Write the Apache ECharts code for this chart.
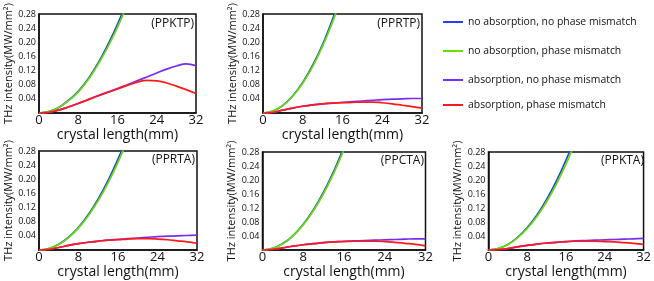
<!DOCTYPE html>
<html><head><meta charset="utf-8">
<script src="https://cdn.jsdelivr.net/npm/echarts@6/dist/echarts.min.js"></script>
<style>html,body{margin:0;padding:0;background:#fff}#c{width:654px;height:281px}</style>
</head><body><div id="c"></div>
<script>
// ---- data ----
const xLen = [0,2,4,6,8,10,12,14,16,18,20,22,24,26,28,30,32];
const crystals = ['(PPKTP)','(PPRTP)','(PPRTA)','(PPCTA)','(PPKTA)'];
const seriesNames = ['no absorption, no phase mismatch','no absorption, phase mismatch','absorption, no phase mismatch','absorption, phase mismatch'];
const xTicks = [0,8,16,24,32];
const yTicks = [0.04,0.08,0.12,0.16,0.20,0.24,0.28];

// PPKTP
const ppktpBlue   = [0,0.0039,0.0157,0.0353,0.0610,0.0960,0.1400,0.1921,0.2510,0.3176,0.392];
const ppktpGreen  = [0,0.0038,0.0151,0.0341,0.0590,0.0930,0.1363,0.1855,0.2423,0.3067,0.380];
const ppktpPurple = [0,0.002,0.008,0.017,0.027,0.038,0.049,0.059,0.069,0.080,0.091,0.102,0.113,0.124,0.133,0.139,0.134];
const ppktpRed    = [0,0.002,0.008,0.017,0.027,0.037,0.048,0.058,0.068,0.078,0.087,0.092,0.091,0.085,0.076,0.066,0.055];
// PPRTP
const pprtpBlue   = [0,0.0054,0.0216,0.0486,0.0864,0.135,0.194,0.265,0.346];
const pprtpGreen  = [0,0.0053,0.021,0.0473,0.084,0.131,0.189,0.257,0.336];
const pprtpPurple = [0,0.002,0.008,0.014,0.019,0.023,0.026,0.028,0.030,0.032,0.034,0.036,0.038,0.039,0.040,0.041,0.041];
const pprtpRed    = [0,0.002,0.008,0.014,0.019,0.023,0.026,0.028,0.029,0.030,0.031,0.031,0.029,0.026,0.022,0.018,0.014];
// PPRTA
const pprtaBlue   = [0,0.0040,0.0161,0.0361,0.0643,0.1004,0.1446,0.1968,0.257,0.325];
const pprtaGreen  = [0,0.0039,0.0155,0.0349,0.0620,0.0969,0.1395,0.1899,0.248,0.314];
const pprtaPurple = [0,0.002,0.007,0.013,0.018,0.022,0.025,0.028,0.030,0.032,0.034,0.036,0.038,0.039,0.040,0.041,0.042];
const pprtaRed    = [0,0.002,0.007,0.013,0.018,0.022,0.025,0.028,0.029,0.031,0.032,0.032,0.031,0.029,0.026,0.023,0.019];
// PPCTA
const ppctaBlue   = [0,0.0046,0.0184,0.0414,0.0736,0.115,0.1657,0.2255,0.2945];
const ppctaGreen  = [0,0.0045,0.0179,0.0404,0.0718,0.1122,0.1615,0.2199,0.2871];
const ppctaPurple = [0,0.002,0.006,0.011,0.015,0.018,0.021,0.023,0.025,0.026,0.027,0.028,0.029,0.030,0.031,0.032,0.032];
const ppctaRed    = [0,0.002,0.006,0.011,0.015,0.018,0.021,0.023,0.024,0.025,0.025,0.025,0.024,0.022,0.019,0.016,0.012];
// PPKTA
const ppktaBlue   = [0,0.0040,0.0161,0.0361,0.0643,0.1004,0.1446,0.1968,0.257,0.325];
const ppktaGreen  = [0,0.0038,0.0153,0.0345,0.0613,0.0958,0.1379,0.1877,0.2451,0.3102];
const ppktaPurple = [0,0.001,0.004,0.009,0.013,0.017,0.020,0.022,0.024,0.026,0.027,0.028,0.029,0.030,0.031,0.032,0.033];
const ppktaRed    = [0,0.001,0.004,0.009,0.013,0.017,0.020,0.022,0.024,0.025,0.025,0.025,0.024,0.023,0.021,0.019,0.016];

const panelData = [
  [ppktpBlue, ppktpGreen, ppktpPurple, ppktpRed],
  [pprtpBlue, pprtpGreen, pprtpPurple, pprtpRed],
  [pprtaBlue, pprtaGreen, pprtaPurple, pprtaRed],
  [ppctaBlue, ppctaGreen, ppctaPurple, ppctaRed],
  [ppktaBlue, ppktaGreen, ppktaPurple, ppktaRed]
];

// ---- layout / style ----
const colors = ['#2a3cff','#66e000','#7a2cf0','#ff1a1a'];
const grids = [
  {left:39, top:14, width:157, height:99},
  {left:263, top:14, width:159, height:99},
  {left:39, top:151, width:158, height:99},
  {left:262.5, top:152, width:163, height:98},
  {left:488.5, top:152, width:158, height:98}
];
const labelPos = [
  {right:654-194, top:18},
  {right:654-420, top:18},
  {right:654-195, top:154},
  {right:654-424, top:155},
  {right:654-644, top:155}
];
const FONT = 'Open Sans';

const option = {
  animation:false,
  textStyle:{fontFamily:FONT},
  grid: grids.map(g => Object.assign({show:true, borderColor:'#111', borderWidth:1.5, backgroundColor:'transparent'}, g)),
  title: crystals.map((t,i)=>Object.assign({text:t, padding:0, textStyle:{fontSize:12, fontWeight:'normal', color:'#111', fontFamily:FONT}}, labelPos[i])),
  legend: seriesNames.map((n,i)=>({
    data:[n], left:443, top:[17,46,75,100][i], orient:'vertical', padding:0,
    icon:'rect', itemWidth:20, itemHeight:2, itemGap:0,
    textStyle:{fontSize:10.4, color:'#111', fontFamily:FONT}
  })),
  xAxis: grids.map((g,i)=>({
    gridIndex:i, type:'value', min:0, max:32, interval:8,
    name:'crystal length(mm)', nameLocation:'middle', nameGap:5,
    nameTextStyle:{fontSize:14, color:'#111', verticalAlign:'top', fontFamily:FONT},
    axisLine:{show:true, lineStyle:{color:'#111', width:1.5}},
    axisTick:{show:false}, splitLine:{show:false},
    axisLabel:{fontSize:13, color:'#111', margin:1, fontFamily:FONT}
  })),
  yAxis: grids.map((g,i)=>({
    gridIndex:i, type:'value', min:0, max:0.28, interval:0.04,
    name:'THz intensity(MW/mm²)', nameLocation:'middle', nameGap:24,
    nameTextStyle:{fontSize:11, color:'#111', fontFamily:FONT},
    axisLine:{show:true, lineStyle:{color:'#111', width:1.5}},
    axisTick:{show:false}, splitLine:{show:false},
    axisLabel:{fontSize:9, color:'#111', margin:3, fontFamily:FONT,
      formatter:v => v===0 ? '' : v.toFixed(2)}
  })),
  series: []
};
panelData.forEach((arrs,i)=>{
  arrs.forEach((ys,k)=>{
    option.series.push({
      name:seriesNames[k], type:'line', xAxisIndex:i, yAxisIndex:i,
      data: ys.map((y,j)=>[xLen[j], y]),
      smooth:0.4, showSymbol:false, clip:true,
      lineStyle:{color:colors[k], width:1.7}, itemStyle:{color:colors[k]},
      z: [2,3,2,3][k]
    });
  });
});
const chart = echarts.init(document.getElementById('c'), null, {renderer:'canvas'});
chart.setOption(option);
</script></body></html>
